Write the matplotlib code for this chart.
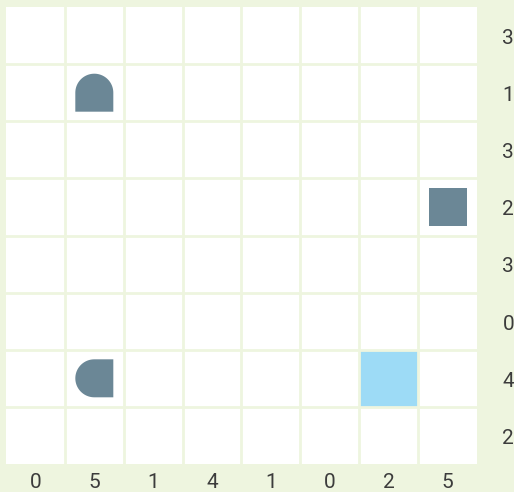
import matplotlib
matplotlib.use('Agg')
import matplotlib.pyplot as plt
import numpy as np
from matplotlib.patches import Polygon, Rectangle

# clue numbers along the right side (top to bottom) and bottom (left to right)
row_labels = [3, 1, 3, 2, 3, 0, 4, 2]
col_labels = [0, 5, 1, 4, 1, 0, 2, 5]

# pieces placed on the board
piece_rows = [1, 3, 6, 6]
piece_cols = [1, 7, 1, 6]
piece_kinds = ['dome', 'square', 'halfleft', 'full']
piece_colors = ['#6b8796', '#6b8796', '#6b8796', '#9ddbf6']

bg = '#eef5df'
n = 8

fig = plt.figure(figsize=(5.14, 4.92), dpi=100, facecolor=bg)
W, H = 514, 492
left, right, top, bottom = 6, 477, 7, 464
ax = fig.add_axes([left / W, 1 - bottom / H, (right - left) / W, (bottom - top) / H])
ax.set_facecolor('white')
ax.set_xlim(0, n)
ax.set_ylim(n, 0)

# size of one cell in pixels, used to keep shapes square on screen
cw = (right - left) / n
ch = (bottom - top) / n
s = 38  # shape side in px
sx = s / cw
sy = s / ch


def piece_poly(kind, r, c):
    cx, cy = c + 0.5, r + 0.5
    hx, hy = sx / 2, sy / 2
    t = np.linspace(0, np.pi, 40)
    if kind == 'dome':
        # semicircle on top, flat bottom
        arc = np.column_stack([cx + hx * np.cos(t), cy - hy * np.sin(t)])
        pts = np.vstack([[[cx + hx, cy + hy]], arc, [[cx - hx, cy + hy]]])
    elif kind == 'halfleft':
        t = np.linspace(np.pi / 2, 3 * np.pi / 2, 40)
        arc = np.column_stack([cx + hx * np.cos(t), cy - hy * np.sin(t)])
        pts = np.vstack([[[cx + hx, cy - hy]], arc, [[cx + hx, cy + hy]]])
    else:
        pts = np.array([[cx - hx, cy - hy], [cx + hx, cy - hy],
                        [cx + hx, cy + hy], [cx - hx, cy + hy]])
    return pts


for r, c, kind, col in zip(piece_rows, piece_cols, piece_kinds, piece_colors):
    if kind == 'full':
        ax.add_patch(Rectangle((c, r), 1, 1, facecolor=col, edgecolor='none', zorder=1))
    else:
        ax.add_patch(Polygon(piece_poly(kind, r, c), closed=True, facecolor=col,
                             edgecolor='none', zorder=3))

# grid lines in the background colour
for i in range(1, n):
    ax.axvline(i, color=bg, lw=2, zorder=2)
    ax.axhline(i, color=bg, lw=2, zorder=2)

ax.set_xticks([])
ax.set_yticks([])
for sp in ax.spines.values():
    sp.set_visible(False)

font = dict(family=['Roboto', 'DejaVu Sans'], weight='normal', fontsize=15, color='#3c3c3c')
for i, v in enumerate(row_labels):
    ax.text(n + 0.53, i + 0.55, str(v), ha='center', va='center', **font)
for j, v in enumerate(col_labels):
    ax.text(j + 0.5, n + 0.33, str(v), ha='center', va='center', **font)

fig.savefig('out.png', dpi=100, facecolor=bg)
